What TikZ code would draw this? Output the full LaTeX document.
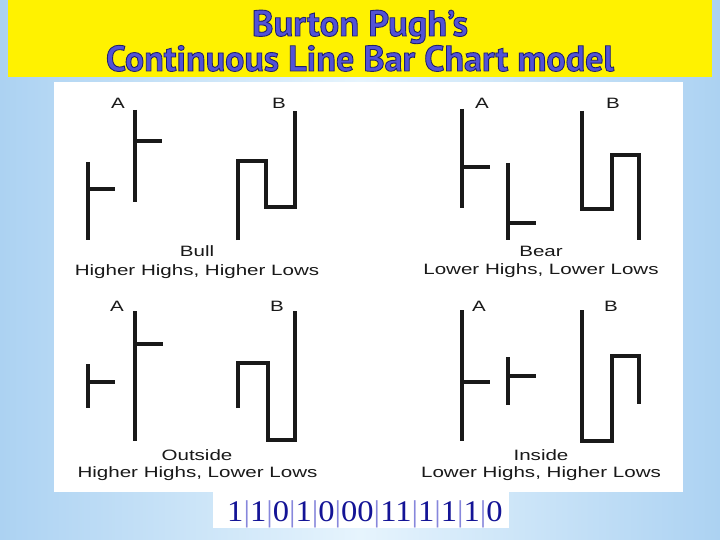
\documentclass[tikz,border=0pt]{standalone}
\usepackage{fontspec}
\setmainfont{Liberation Sans}
\newfontfamily\titlefont{PT Sans}
\newfontfamily\digitfont{Liberation Serif}
\definecolor{titlefill}{RGB}{82,82,214}
\definecolor{digitblue}{RGB}{20,20,150}
\definecolor{barblue}{RGB}{135,135,220}
\definecolor{bgedge}{RGB}{172,210,242}
\definecolor{bgmid}{RGB}{230,244,253}
\definecolor{ink}{RGB}{25,25,25}
\newcommand{\dgt}[1]{\textcolor{digitblue}{#1}}
\newcommand{\dsep}{\textcolor{barblue}{|}}
\newcommand{\outl}{\special{pdf:literal direct 2 Tr 0.7 w 0.12 0.12 0.43 RG}}
\newcommand{\outloff}{\special{pdf:literal direct 0 Tr}}
\newcommand{\lineone}{\resizebox{216pt}{!}{\titlefont\bfseries\fontsize{29}{30}\selectfont\outl Burton Pugh’s\outloff}}
\newcommand{\linetwo}{\resizebox{508pt}{!}{\titlefont\bfseries\fontsize{29}{30}\selectfont\outl Continuous Line Bar Chart model\outloff}}
\begin{document}
\begin{tikzpicture}[x=1pt,y=-1pt,
  bar/.style={draw=ink,line width=4pt},
  lbl/.style={inner sep=0pt,anchor=base,font=\fontsize{15}{18}\selectfont,text=ink,xscale=1.37},
  ttl/.style={inner sep=0pt,anchor=base,text=titlefill}]
\useasboundingbox (0,0) rectangle (720,540);
% background
\shade[left color=bgedge,right color=bgedge,middle color=bgmid] (0,0) rectangle (720,540);
\fill[yellow] (8,0) rectangle (712,77);
\fill[white] (54,82) rectangle (683,492);
\fill[white] (213,492) rectangle (509,528);
% title
\node[ttl] (title1) at (360,36) {\lineone};
\node[ttl] (title2) at (360,71) {\linetwo};
% ---------- Bull (top left)
\node[lbl] (blA) at (118,109) {A};
\node[lbl] (blB) at (279,109) {B};
\draw[bar] (88,162) -- (88,240);
\draw[bar] (88,189) -- (115,189);
\draw[bar] (135,110) -- (135,202);
\draw[bar] (135,141) -- (162,141);
\draw[bar] (238,240) -- (238,161) -- (266,161) -- (266,207) -- (295,207) -- (295,111);
\node[lbl] (bl1) at (197,256.5) {Bull};
\node[lbl] (bl2) at (197,275) {Higher Highs, Higher Lows};
% ---------- Bear (top right)
\node[lbl] (brA) at (482,109) {A};
\node[lbl] (brB) at (613,109) {B};
\draw[bar] (462,109) -- (462,208);
\draw[bar] (462,167) -- (490,167);
\draw[bar] (508,163) -- (508,240);
\draw[bar] (508,223) -- (536,223);
\draw[bar] (582,111) -- (582,209) -- (612,209) -- (612,155) -- (639,155) -- (639,240);
\node[lbl] (br1) at (541,256.5) {Bear};
\node[lbl] (br2) at (541,274.5) {Lower Highs, Lower Lows};
% ---------- Outside (bottom left)
\node[lbl] (olA) at (117,311.5) {A};
\node[lbl] (olB) at (277,311.5) {B};
\draw[bar] (88,364) -- (88,408);
\draw[bar] (88,382) -- (115,382);
\draw[bar] (135,311) -- (135,441);
\draw[bar] (135,344) -- (163,344);
\draw[bar] (238,408) -- (238,363) -- (268,363) -- (268,440) -- (295,440) -- (295,311);
\node[lbl] (ol1) at (197,460) {Outside};
\node[lbl] (ol2) at (197.5,477.5) {Higher Highs, Lower Lows};
% ---------- Inside (bottom right)
\node[lbl] (irA) at (479,311.5) {A};
\node[lbl] (irB) at (611,311.5) {B};
\draw[bar] (462,310) -- (462,441);
\draw[bar] (462,382) -- (490,382);
\draw[bar] (508,357) -- (508,405);
\draw[bar] (508,376) -- (536,376);
\draw[bar] (582,310) -- (582,441) -- (612,441) -- (612,356) -- (639,356) -- (639,404);
\node[lbl] (ir1) at (541,460) {Inside};
\node[lbl] (ir2) at (541,477.5) {Lower Highs, Higher Lows};
% ---------- digits
\node[inner sep=0pt,anchor=base,font=\digitfont\fontsize{30}{32}\selectfont,xscale=1.085] (digits) at (365,521)
 {\dgt{1}\dsep\dgt{1}\dsep\dgt{0}\dsep\dgt{1}\dsep\dgt{0}\dsep\dgt{00}\dsep\dgt{11}\dsep\dgt{1}\dsep\dgt{1}\dsep\dgt{1}\dsep\dgt{0}};
\end{tikzpicture}
\end{document}
